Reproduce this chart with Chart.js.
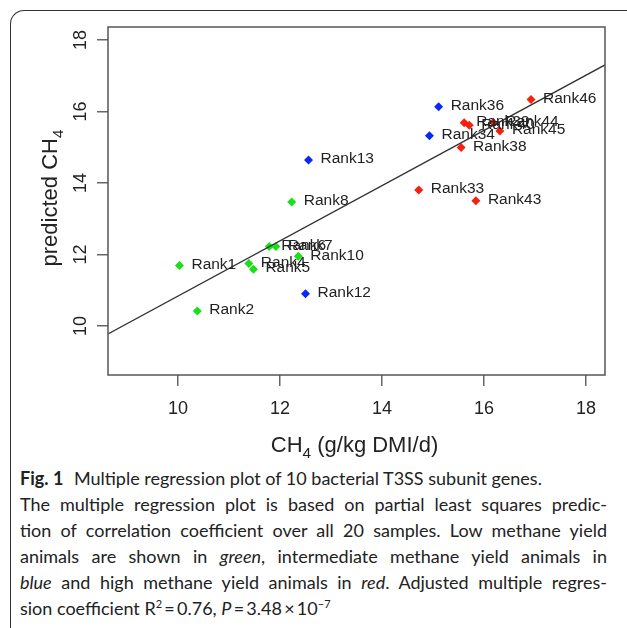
<!DOCTYPE html>
<html>
<head>
<meta charset="utf-8">
<script src="https://cdn.jsdelivr.net/npm/chart.js@4.4.1/dist/chart.umd.min.js"></script>
<style>
  html, body { margin: 0; padding: 0; background: #fff; overflow: hidden; }
  body { width: 627px; height: 628px; position: relative; }
  #frame { position: absolute; left: 10px; top: 10px; width: 700px; height: 700px;
    border-top: 1.5px solid #333; border-left: 1.5px solid #333; border-top-left-radius: 14px; }
  #chart { position: absolute; left: 0; top: 0; }
  #caption { position: absolute; left: 20px; top: 465px; width: 587px;
    font-family: Lato, "Open Sans", sans-serif; font-size: 18px; color: #222; }
  #caption div { height: 26px; line-height: 26px; white-space: nowrap; }
  #caption .j { text-align: justify; text-align-last: justify; }
  #caption b { font-weight: bold; margin-right: 6px; }
  #caption sup { font-size: 11px; line-height: 0; vertical-align: 7px; }
</style>
</head>
<body>
<div id="frame"></div>
<canvas id="chart" width="627" height="465"></canvas>
<div id="caption">
  <div><b>Fig. 1</b> Multiple regression plot of 10 bacterial T3SS subunit genes.</div>
  <div class="j">The multiple regression plot is based on partial least squares predic-</div>
  <div class="j">tion of correlation coefficient over all 20 samples. Low methane yield</div>
  <div class="j">animals are shown in <i>green</i>, intermediate methane yield animals in</div>
  <div class="j"><i>blue</i> and high methane yield animals in <i>red</i>. Adjusted multiple regres-</div>
  <div>sion coefficient R<sup>2</sup>&thinsp;=&thinsp;0.76, <i>P</i>&thinsp;=&thinsp;3.48&thinsp;×&thinsp;10<sup>−7</sup></div>
</div>
<script>
// low methane yield (green)
const greenNames = ["Rank1", "Rank2", "Rank4", "Rank5", "Rank6", "Rank7", "Rank8", "Rank10"];
const greenX = [10.03, 10.38, 11.39, 11.48, 11.79, 11.92, 12.23, 12.36];
const greenY = [11.69, 10.42, 11.75, 11.59, 12.22, 12.22, 13.47, 11.95];

// intermediate (blue)
const blueNames = ["Rank12", "Rank13", "Rank34", "Rank36"];
const blueX = [12.50, 12.56, 14.93, 15.11];
const blueY = [10.90, 14.64, 15.32, 16.13];

// high (red)
const redNames = ["Rank33", "Rank38", "Rank39", "Rank40", "Rank43", "Rank44", "Rank45", "Rank46"];
const redX = [14.72, 15.55, 15.61, 15.71, 15.84, 16.18, 16.31, 16.92];
const redY = [13.80, 14.99, 15.68, 15.61, 13.50, 15.69, 15.45, 16.33];

// fitted regression line, read at both plot edges
const fitX = [8.63, 18.37];
const fitY = [9.78, 17.30];

const xTicks = [10, 12, 14, 16, 18];
const yTicks = [10, 12, 14, 16, 18];
const xRange = [8.63, 18.37];
const yRange = [8.63, 18.36];

const FONT = '"Liberation Sans", Arial, sans-serif';
const pts = (xs, ys) => xs.map((x, i) => ({ x: x, y: ys[i] }));

// draws text with a subscript part, centred on (0,0) of current transform
function drawSub(ctx, parts, size) {
  const widths = parts.map(p => { ctx.font = (p.sub ? size * 0.7 : size) + "px " + FONT; return ctx.measureText(p.t).width; });
  let x = -widths.reduce((a, b) => a + b, 0) / 2;
  ctx.textAlign = "left";
  parts.forEach((p, i) => {
    ctx.font = (p.sub ? size * 0.7 : size) + "px " + FONT;
    ctx.fillText(p.t, x, p.sub ? size * 0.25 : 0);
    x += widths[i];
  });
}

const decor = {
  id: "decor",
  afterDatasetsDraw(chart) {
    const ctx = chart.ctx, a = chart.chartArea;
    const xs = chart.scales.x, ys = chart.scales.y;
    ctx.save();
    ctx.strokeStyle = "#555";
    ctx.lineWidth = 1.5;
    ctx.strokeRect(a.left, a.top, a.right - a.left, a.bottom - a.top);

    // point labels
    ctx.fillStyle = "#222";
    ctx.font = "15.5px " + FONT;
    ctx.textAlign = "left";
    ctx.textBaseline = "middle";
    chart.data.datasets.forEach((ds, di) => {
      if (!ds.names) return;
      chart.getDatasetMeta(di).data.forEach((el, i) => ctx.fillText(ds.names[i], el.x + 12, el.y - 1));
    });

    // tick labels
    ctx.textBaseline = "alphabetic";
    ctx.textAlign = "center";
    ctx.font = "18px " + FONT;
    xTicks.forEach(v => ctx.fillText(String(v), xs.getPixelForValue(v), a.bottom + 39));
    yTicks.forEach(v => {
      ctx.save();
      ctx.translate(a.left - 22, ys.getPixelForValue(v));
      ctx.rotate(-Math.PI / 2);
      ctx.fillText(String(v), 0, 0);
      ctx.restore();
    });

    // axis titles
    ctx.save();
    ctx.translate((a.left + a.right) / 2 - 2, a.bottom + 77);
    drawSub(ctx, [{ t: "CH" }, { t: "4", sub: true }, { t: " (g/kg DMI/d)" }], 22);
    ctx.restore();
    ctx.save();
    ctx.translate(a.left - 51, (a.top + a.bottom) / 2 - 3);
    ctx.rotate(-Math.PI / 2);
    drawSub(ctx, [{ t: "predicted CH" }, { t: "4", sub: true }], 22);
    ctx.restore();
    ctx.restore();
  }
};

const scatterSet = (names, xs, ys, color) => ({
  type: "scatter", names: names, data: pts(xs, ys),
  pointStyle: "rectRot", pointRadius: 4.5, pointHoverRadius: 4.5,
  backgroundColor: color, borderColor: color, borderWidth: 0
});

new Chart(document.getElementById("chart"), {
  type: "scatter",
  data: {
    datasets: [
      { type: "line", data: pts(fitX, fitY), borderColor: "#333", borderWidth: 1.3,
        pointRadius: 0, fill: false, tension: 0 },
      scatterSet(greenNames, greenX, greenY, "#19e019"),
      scatterSet(blueNames, blueX, blueY, "#0a28f0"),
      scatterSet(redNames, redX, redY, "#f5200f")
    ]
  },
  options: {
    responsive: false,
    animation: false,
    events: [],
    layout: { autoPadding: false, padding: { top: 27, right: 22, left: 0, bottom: 0 } },
    plugins: { legend: { display: false }, tooltip: { enabled: false } },
    scales: {
      x: {
        type: "linear", min: xRange[0], max: xRange[1],
        afterBuildTicks: s => { s.ticks = xTicks.map(v => ({ value: v })); },
        afterFit: s => { s.height = 90; },
        ticks: { display: false },
        border: { display: false },
        grid: { drawOnChartArea: false, drawTicks: true, tickLength: 11, color: "#666", lineWidth: 1.5 }
      },
      y: {
        type: "linear", min: yRange[0], max: yRange[1],
        afterBuildTicks: s => { s.ticks = yTicks.map(v => ({ value: v })); },
        afterFit: s => { s.width = 108; },
        ticks: { display: false },
        border: { display: false },
        grid: { drawOnChartArea: false, drawTicks: true, tickLength: 11, color: "#666", lineWidth: 1.5 }
      }
    }
  },
  plugins: [decor]
});
</script>
</body>
</html>
